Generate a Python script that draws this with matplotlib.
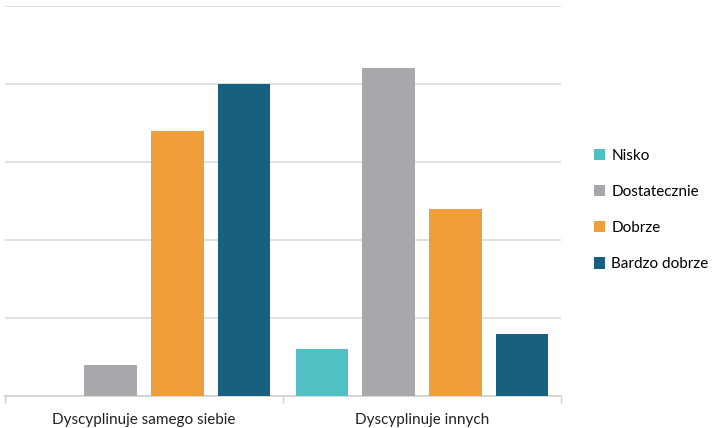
import numpy as np
import matplotlib.pyplot as plt
from matplotlib.patches import Patch

plt.rcParams['font.family'] = ['Lato', 'DejaVu Sans']

# -- Data -------------------------------------------------------------
categories = ["Dyscyplinuje samego siebie", "Dyscyplinuje innych"]
levels = ["Nisko", "Dostatecznie", "Dobrze", "Bardzo dobrze"]
nisko = [0, 6]
dostatecznie = [4, 42]
dobrze = [34, 24]
bardzo_dobrze = [40, 8]
colors = ["#4FC1C4", "#A7A8AB", "#F09E3A", "#17607F"]

series = [nisko, dostatecznie, dobrze, bardzo_dobrze]

# -- Figure / Axes ----------------------------------------------------
fig = plt.figure(figsize=(7.13, 4.28), dpi=100)
ax = fig.add_axes([0.007, 0.075, 0.780, 0.911])

x = np.arange(len(categories))
pitch = 0.240
width = 0.189
for i, (vals, col) in enumerate(zip(series, colors)):
    offs = (i - 1.5) * pitch
    ax.bar(x + offs, vals, width=width, color=col, zorder=3)

ax.set_xlim(-0.5, len(categories) - 0.5)
ax.set_ylim(0, 50)
ax.set_yticks(np.arange(0, 51, 10))
ax.yaxis.grid(True, color="#DADADA", linewidth=1.2, zorder=0)
ax.tick_params(axis="y", left=False, labelleft=False)

# category labels in the middle, small ticks on group boundaries
ax.set_xticks(x)
ax.set_xticklabels(categories, fontsize=11, color="#222222")
ax.tick_params(axis="x", which="major", length=0, pad=12)
ax.set_xticks(np.arange(-0.5, len(categories), 1.0), minor=True)
ax.tick_params(axis="x", which="minor", length=5, color="#CFCFCF", width=1)

for side in ("top", "right", "left"):
    ax.spines[side].set_visible(False)
ax.spines["bottom"].set_color("#CFCFCF")
ax.spines["bottom"].set_linewidth(1.2)

handles = [Patch(facecolor=c, edgecolor="none") for c in colors]
fig.legend(handles, levels, loc="center left", bbox_to_anchor=(0.833, 0.509),
           frameon=False, fontsize=11, handlelength=0.75, handleheight=0.75,
           handletextpad=0.4, labelspacing=1.45, borderpad=0, borderaxespad=0)

fig.savefig("out.png", dpi=100)
